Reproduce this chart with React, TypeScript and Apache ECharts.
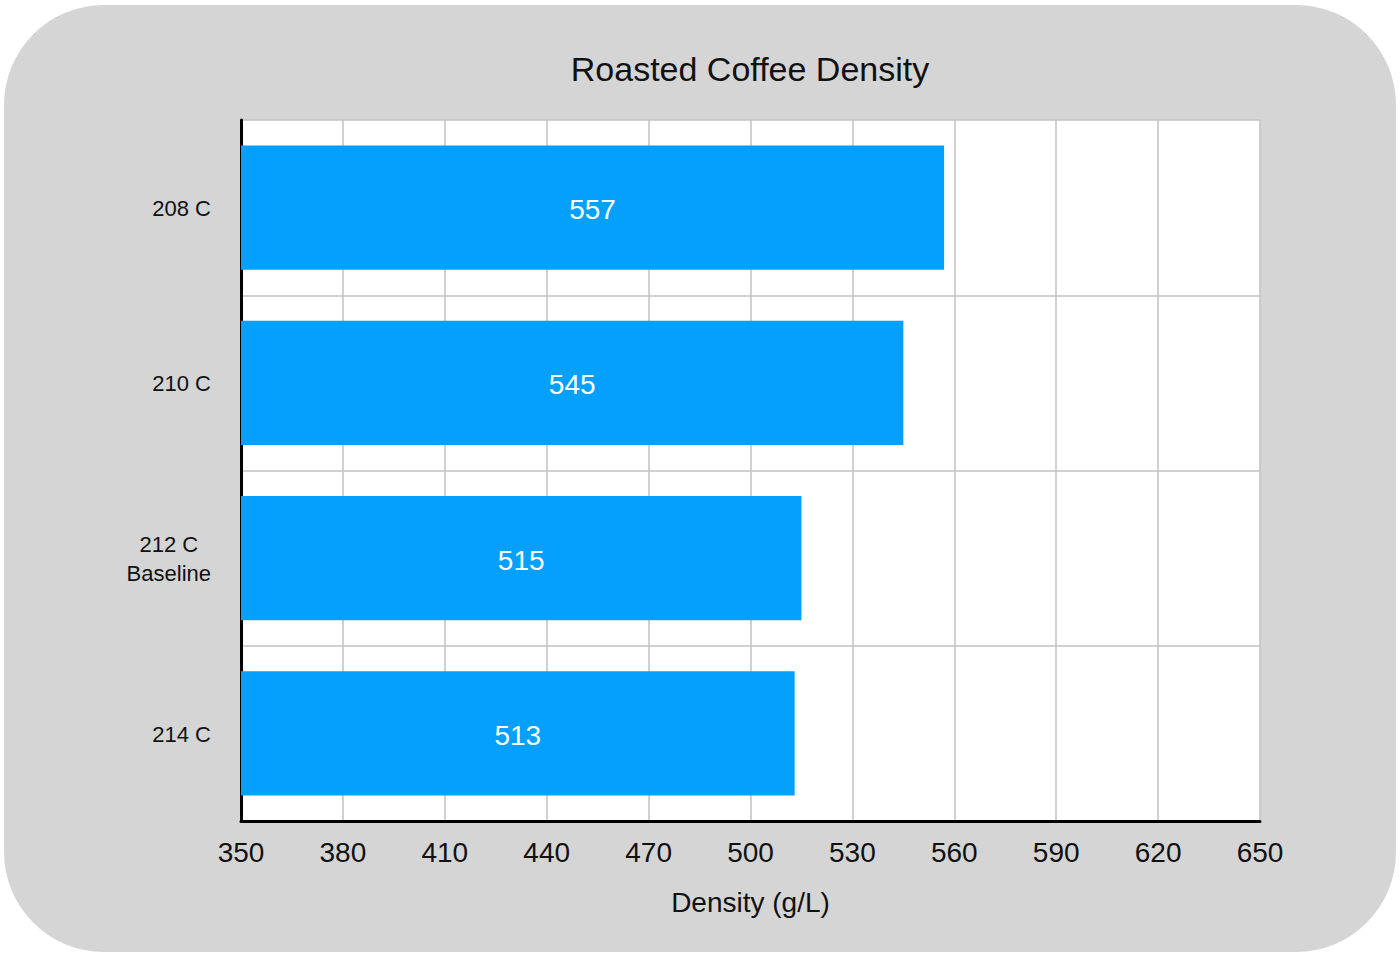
import React, { useEffect, useRef } from "react";
import * as echarts from "echarts";

const categories = ["208 C", "210 C", "212 C\nBaseline", "214 C"];
const densityValues = [557, 545, 515, 513];
const xTicks = [350, 380, 410, 440, 470, 500, 530, 560, 590, 620, 650];

const FONT = "'Liberation Sans', Arial, Helvetica, sans-serif";

export default function App() {
  const ref = useRef<HTMLDivElement>(null);

  useEffect(() => {
    if (!ref.current) return;
    const chart = echarts.init(ref.current, null, { renderer: "svg" });
    chart.setOption({
      animation: false,
      textStyle: { fontFamily: FONT },
      graphic: [
        {
          type: "rect",
          z: -100,
          silent: true,
          shape: { x: 4, y: 5, width: 1392, height: 947, r: 100 },
          style: { fill: "#d5d5d5" },
        },
        {
          type: "text",
          z: 10,
          x: 750,
          y: 69,
          style: {
            text: "Roasted Coffee Density",
            fontFamily: FONT,
            fontSize: 34,
            fill: "#111",
            align: "center",
            verticalAlign: "middle",
          },
        },
      ],
      grid: {
        left: 241,
        top: 120,
        right: 140,
        bottom: 135,
        show: true,
        backgroundColor: "#ffffff",
        borderWidth: 0,
      },
      xAxis: {
        type: "value",
        min: xTicks[0],
        max: xTicks[xTicks.length - 1],
        interval: 30,
        name: "Density (g/L)",
        nameLocation: "middle",
        nameGap: 67,
        nameTextStyle: { fontSize: 28, color: "#111", fontFamily: FONT },
        axisLine: { show: true, lineStyle: { color: "#000", width: 3 } },
        axisTick: { show: false },
        axisLabel: {
          fontSize: 28,
          color: "#111",
          margin: 17,
          fontFamily: FONT,
          showMinLabel: true,
          showMaxLabel: true,
        },
        splitLine: { show: true, lineStyle: { color: "#c2c2c2", width: 1.5 } },
      },
      yAxis: {
        type: "category",
        data: categories,
        inverse: true,
        axisLine: { show: true, lineStyle: { color: "#000", width: 3 } },
        axisTick: { show: false },
        splitLine: { show: true, lineStyle: { color: "#c2c2c2", width: 1.5 } },
        axisLabel: {
          fontSize: 22,
          color: "#111",
          margin: 30,
          fontFamily: FONT,
          lineHeight: 29,
          formatter: (v: string) =>
            v
              .split("\n")
              .map((s) => "{c|" + s + "}")
              .join("\n"),
          rich: {
            c: { fontSize: 22, color: "#111", align: "center", fontFamily: FONT, lineHeight: 29, padding: [2, 0, 0, 0] },
          },
        },
      },
      series: [
        {
          type: "bar",
          data: densityValues,
          barCategoryGap: "29%",
          itemStyle: { color: "#05a0fc" },
          label: {
            show: true,
            position: "inside",
            color: "#ffffff",
            fontSize: 28,
            fontFamily: FONT,
            offset: [0, 2],
          },
        },
      ],
    });
    return () => chart.dispose();
  }, []);

  return (
    <div
      ref={ref}
      style={{ position: "fixed", left: 0, top: 0, width: 1400, height: 956, background: "#ffffff" }}
    />
  );
}
